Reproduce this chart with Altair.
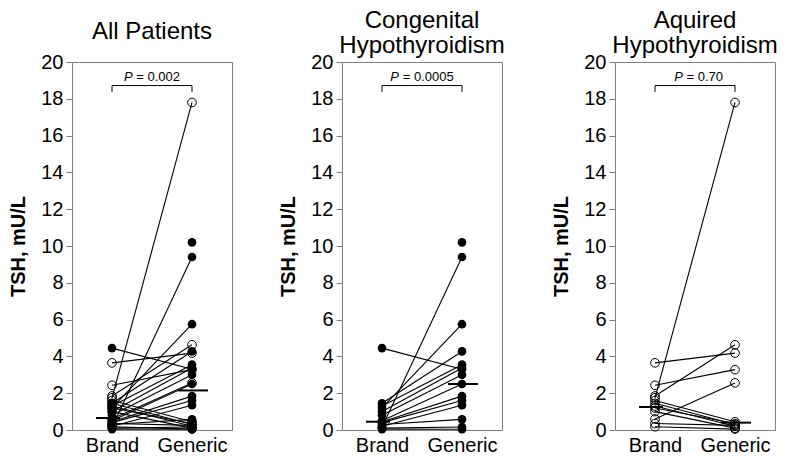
import altair as alt
import pandas as pd

# ---- data ----
cong_brand   = [0.15, 1.2, 4.45, 1.45, 1.3, 1.0, 0.8, 0.5, 0.45, 0.4, 0.2, 0.3, 0.1, 0.05, None]
cong_generic = [9.4, 5.75, 3.3, 4.27, 3.55, 3.37, 3.0, 2.5, 1.84, 1.6, 1.35, 0.58, 0.16, 0.04, 10.2]

acq_brand   = [1.75, 3.65, 2.43, 1.85, 0.6, 1.6, 1.45, 1.3, 1.2, 1.0, 0.35, 0.18]
acq_generic = [17.8, 4.18, 3.28, 4.63, 2.56, 0.45, 0.3, 0.2, 0.35, 0.1, 0.25, 0.05]

panel_titles = [["All Patients"], ["Congenital", "Hypothyroidism"], ["Aquired", "Hypothyroidism"]]
p_values = ["0.002", "0.0005", "0.70"]
median_brand = [0.65, 0.45, 1.25]
median_generic = [2.15, 2.5, 0.4]
condition_labels = ["Brand", "Generic"]
y_ticks = [0, 2, 4, 6, 8, 10, 12, 14, 16, 18, 20]

FONT = "Liberation Sans"


def long_rows(brand, generic, grp, prefix):
    rows = []
    for i, (b, g) in enumerate(zip(brand, generic)):
        if b is not None:
            rows.append(dict(pid=f"{prefix}{i}", grp=grp, cond=1, tsh=b))
        if g is not None:
            rows.append(dict(pid=f"{prefix}{i}", grp=grp, cond=3, tsh=g))
    return rows


df_c = pd.DataFrame(long_rows(cong_brand, cong_generic, "C", "c"))
df_a = pd.DataFrame(long_rows(acq_brand, acq_generic, "A", "a"))
df_all = pd.concat([df_c, df_a], ignore_index=True)

xscale = alt.Scale(domain=[0, 4], nice=False, zero=False)
yscale = alt.Scale(domain=[0, 20], nice=False)

xaxis = alt.Axis(values=[1, 3], labelExpr=f"datum.value == 1 ? '{condition_labels[0]}' : '{condition_labels[1]}'",
                 ticks=False, domain=False, grid=False, title=None, labelFontSize=20,
                 labelFont=FONT, labelColor="black", labelPadding=5, labelAngle=0,
                 labelOverlap=False)
yaxis = alt.Axis(values=y_ticks, tickSize=6, tickColor="#808080", domain=False,
                 grid=False, title="TSH, mU/L", titleFontSize=20, titleFont=FONT,
                 titleFontWeight="bold", titleColor="black", labelFontSize=20, labelFont=FONT,
                 labelColor="black", labelPadding=3, titlePadding=12, labelOverlap=False,
                 labelBound=False)

dx_p = [-19.3, -23.0, -12.1]
dx_rest = [-15.7, -19.3, -8.5]
title_offset = [8, -6, -6]


def XQ(field):
    return alt.X(field, type="quantitative", scale=xscale, axis=xaxis)


def YQ(field):
    return alt.Y(field, type="quantitative", scale=yscale, axis=yaxis)


def panel(k, df):
    base = alt.Chart(df)
    lines = base.mark_line(color="black", strokeWidth=1.1).encode(
        x=XQ("cond"), y=YQ("tsh"), detail="pid:N")
    filled = base.transform_filter("datum.grp == 'C'").mark_circle(
        size=75, color="black", opacity=1).encode(x=XQ("cond"), y=YQ("tsh"))
    opened = base.transform_filter("datum.grp == 'A'").mark_point(
        shape="circle", filled=False, size=75, stroke="black", strokeWidth=1, opacity=1).encode(
        x=XQ("cond"), y=YQ("tsh"))

    med = pd.DataFrame({"cond": [0.6, 2.65], "x2": [1.2, 3.4],
                        "tsh": [median_brand[k], median_generic[k]]})
    med_rules = alt.Chart(med).mark_rule(color="black", strokeWidth=2).encode(
        x=XQ("cond"), x2="x2:Q", y=YQ("tsh"))

    br_h = pd.DataFrame({"cond": [1], "x2": [3], "tsh": [18.72]})
    bracket_h = alt.Chart(br_h).mark_rule(color="black", strokeWidth=1).encode(
        x=XQ("cond"), x2="x2:Q", y=YQ("tsh"))
    br_v = pd.DataFrame({"cond": [1, 3], "tsh": [18.38, 18.38], "y2": [18.72, 18.72]})
    bracket_v = alt.Chart(br_v).mark_rule(color="black", strokeWidth=1).encode(
        x=XQ("cond"), y=YQ("tsh"), y2="y2:Q")

    ptxt = pd.DataFrame({"cond": [2], "tsh": [18.97], "p": ["P"], "rest": ["= " + p_values[k]]})
    p_italic = alt.Chart(ptxt).mark_text(align="right", baseline="alphabetic", fontStyle="italic",
                                         fontSize=13, font=FONT, dx=dx_p[k], color="black").encode(
        x=XQ("cond"), y=YQ("tsh"), text="p:N")
    p_rest = alt.Chart(ptxt).mark_text(align="left", baseline="alphabetic",
                                       fontSize=13, font=FONT, dx=dx_rest[k], color="black").encode(
        x=XQ("cond"), y=YQ("tsh"), text="rest:N")

    return alt.layer(lines, filled, opened, med_rules, bracket_h, bracket_v, p_italic, p_rest).properties(
        width=160, height=368,
        title=alt.TitleParams(text=panel_titles[k], fontSize=24, fontWeight="normal", font=FONT,
                              anchor="middle", offset=title_offset[k], lineHeight=25, color="black"))


p1 = panel(0, df_all)
p2 = panel(1, df_c)
p3 = panel(2, df_a)

chart = alt.hconcat(p1, p2, p3, spacing=45).properties(padding=0).configure_view(
    stroke="#808080", strokeWidth=1).configure_concat(spacing=45)

chart.save("out.html", embed_options={"renderer": "svg", "actions": False})
